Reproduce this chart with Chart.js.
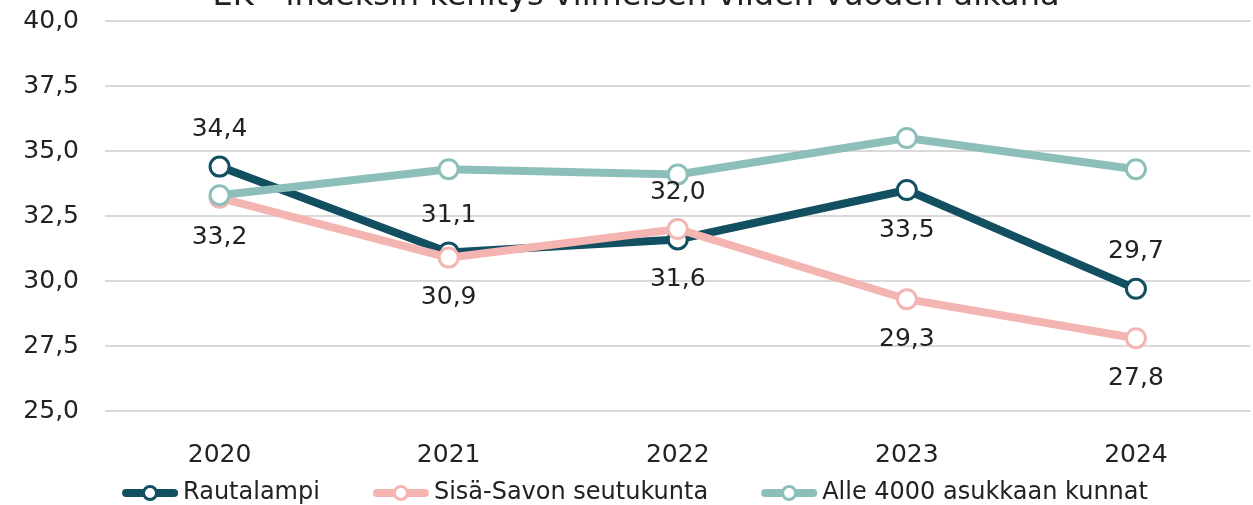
<!DOCTYPE html>
<html>
<head>
<meta charset="utf-8">
<script src="https://cdn.jsdelivr.net/npm/chart.js@4/dist/chart.umd.min.js"></script>
<style>
  html, body { margin: 0; padding: 0; background: #fff; overflow: hidden; }
  #wrap { width: 1253px; height: 505px; overflow: hidden; }
</style>
</head>
<body>
<div id="wrap"><canvas id="chart" width="1263" height="505"></canvas></div>
<script>
// data
const TITLE = 'EK - indeksin kehitys viimeisen viiden vuoden aikana';
const YEARS = ['2020', '2021', '2022', '2023', '2024'];
const RAUTALAMPI = [34.4, 31.1, 31.6, 33.5, 29.7];
const SISA_SAVO = [33.2, 30.9, 32.0, 29.3, 27.8];
const ALLE_4000 = [33.3, 34.3, 34.1, 35.5, 34.3];
const Y_MIN = 25;
const Y_MAX = 40;
const Y_STEP = 2.5;

const FONT = '"DejaVu Sans", sans-serif';
const TEXT = '#222';
const fmt = v => Number(v).toFixed(1).replace('.', ',');

// otsikko (ylälaita leikkautuu kuvasta)
const titlePlugin = {
  id: 'topTitle',
  afterDraw(chart) {
    const ctx = chart.ctx;
    ctx.save();
    ctx.font = `32px ${FONT}`;
    ctx.fillStyle = TEXT;
    ctx.textAlign = 'center';
    ctx.textBaseline = 'alphabetic';
    ctx.fillText(TITLE, 636, 5);
    ctx.restore();
  },
};

// arvot pisteiden ylä- tai alapuolelle
const valueLabels = {
  id: 'valueLabels',
  afterDatasetsDraw(chart) {
    const ctx = chart.ctx;
    ctx.save();
    ctx.font = `25px ${FONT}`;
    ctx.fillStyle = TEXT;
    ctx.textAlign = 'center';
    ctx.textBaseline = 'middle';
    chart.data.datasets.forEach((ds, di) => {
      if (!ds.labelPos) return;
      chart.getDatasetMeta(di).data.forEach((pt, i) => {
        const dy = ds.labelPos[i] === 'above' ? -37 : 40;
        ctx.fillText(fmt(ds.data[i]), pt.x, pt.y + dy);
      });
    });
    ctx.restore();
  },
};

// selite: viiva + ympyrä kuten Excelissä
const lineLegend = {
  id: 'lineLegend',
  afterDraw(chart) {
    const ctx = chart.ctx;
    const y = 493;
    const lineW = 56, gap = 5, spacing = 53;
    ctx.save();
    ctx.font = `24px ${FONT}`;
    const items = chart.data.datasets.map(ds => ({ ds, w: ctx.measureText(ds.label).width }));
    const total = items.reduce((s, it) => s + lineW + gap + it.w, 0) + spacing * (items.length - 1);
    let x = 635 - total / 2;
    items.forEach(({ ds, w }) => {
      ctx.strokeStyle = ds.borderColor;
      ctx.lineWidth = 8;
      ctx.lineCap = 'round';
      ctx.beginPath();
      ctx.moveTo(x + 4, y);
      ctx.lineTo(x + lineW - 4, y);
      ctx.stroke();
      ctx.beginPath();
      ctx.arc(x + lineW / 2, y, 6.5, 0, Math.PI * 2);
      ctx.fillStyle = '#fff';
      ctx.fill();
      ctx.lineWidth = 3;
      ctx.stroke();
      ctx.fillStyle = TEXT;
      ctx.textAlign = 'left';
      ctx.textBaseline = 'middle';
      ctx.fillText(ds.label, x + lineW + gap, y);
      x += lineW + gap + w + spacing;
    });
    ctx.restore();
  },
};

function series(label, data, color, order, labelPos) {
  return {
    label,
    data,
    borderColor: color,
    backgroundColor: color,
    borderWidth: 8,
    pointRadius: 9.5,
    pointHoverRadius: 9.5,
    pointBorderWidth: 3,
    pointBackgroundColor: '#fff',
    pointBorderColor: color,
    tension: 0,
    order,
    labelPos,
  };
}

new Chart(document.getElementById('chart'), {
  type: 'line',
  data: {
    labels: YEARS,
    datasets: [
      series('Rautalampi', RAUTALAMPI, '#124f61', 2, ['above', 'above', 'below', 'below', 'above']),
      series('Sisä-Savon seutukunta', SISA_SAVO, '#f4b5b2', 1, ['below', 'below', 'above', 'below', 'below']),
      series('Alle 4000 asukkaan kunnat', ALLE_4000, '#8dbfba', 0, null),
    ],
  },
  options: {
    responsive: false,
    devicePixelRatio: 1,
    animation: false,
    layout: { padding: { top: 21, right: 0, left: 0, bottom: 0 } },
    plugins: {
      legend: { display: false },
      title: { display: false },
      tooltip: { enabled: false },
    },
    scales: {
      x: {
        offset: true,
        grid: { display: false },
        border: { display: false },
        ticks: { color: TEXT, font: { family: FONT, size: 25 }, padding: 21 },
        afterFit: s => { s.height = 94; s.paddingLeft = 0; s.paddingRight = 0; },
      },
      y: {
        min: Y_MIN,
        max: Y_MAX,
        grid: { color: '#d9d9d9', lineWidth: 2, drawTicks: false },
        border: { display: false },
        ticks: {
          stepSize: Y_STEP,
          color: TEXT,
          font: { family: FONT, size: 25 },
          padding: 26,
          callback: v => fmt(v),
        },
        afterFit: s => { s.width = 105; s.paddingTop = 0; s.paddingBottom = 0; },
      },
    },
  },
  plugins: [titlePlugin, valueLabels, lineLegend],
});
</script>
</body>
</html>
